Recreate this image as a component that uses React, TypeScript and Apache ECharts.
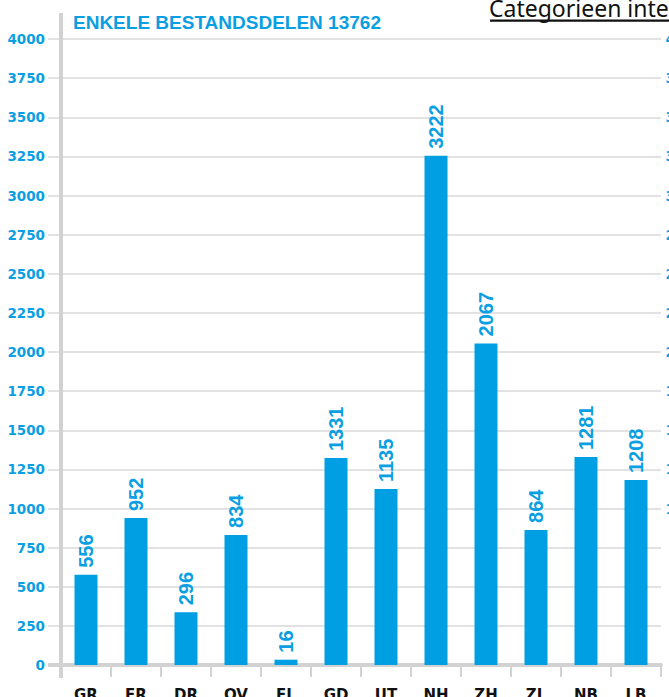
import React, { useEffect, useRef } from "react";
import * as echarts from "echarts";

const categories = ["GR", "FR", "DR", "OV", "FL", "GD", "UT", "NH", "ZH", "ZL", "NB", "LB"];
// bar heights as drawn in the reference
const barValues = [576, 939, 337, 831, 34, 1322, 1124, 3254, 2055, 863, 1329, 1182];
// value labels printed above the bars
const labelValues = [556, 952, 296, 834, 16, 1331, 1135, 3222, 2067, 864, 1281, 1208];
const yMin = 0;
const yMax = 4000;
const yInterval = 250;
const titleText = "ENKELE BESTANDSDELEN 13762";
const headerText = "Categorieen inte";

const BLUE = "#0a9fe2";
const BAR = "#009fe3";
const GRIDC = "#d8d8d8";
const AXISC = "#d2d2d2";

export default function App() {
  const ref = useRef<HTMLDivElement>(null);
  useEffect(() => {
    if (!ref.current) return;
    const chart = echarts.init(ref.current, undefined, { renderer: "svg" });
    chart.setOption({
      animation: false,
      backgroundColor: "#ffffff",
      grid: { left: 61, right: 8, top: 39, bottom: 32, containLabel: false, outerBoundsMode: "none" },
      xAxis: {
        type: "category",
        data: categories,
        axisLine: { show: true, lineStyle: { color: AXISC, width: 4 } },
        axisTick: { show: true, length: 12, lineStyle: { color: AXISC, width: 2 } },
        axisLabel: {
          margin: 22,
          color: "#111111",
          fontFamily: "DejaVu Sans",
          fontWeight: "bold",
          fontSize: 15,
        },
        splitLine: { show: false },
      },
      yAxis: [
        {
          type: "value",
          min: yMin,
          max: yMax,
          interval: yInterval,
          position: "left",
          axisLine: { show: false },
          axisTick: { show: true, length: 13, lineStyle: { color: GRIDC, width: 1.5 } },
          axisLabel: {
            margin: 16,
            color: BLUE,
            fontFamily: "DejaVu Sans",
            fontWeight: "bold",
            fontSize: 13.5,
            formatter: (v: number) => String(v),
          },
          splitLine: { show: true, lineStyle: { color: GRIDC, width: 1.5 } },
        },
        {
          type: "value",
          min: yMin,
          max: yMax,
          interval: yInterval,
          position: "right",
          axisLine: { show: false },
          axisTick: { show: false },
          axisLabel: {
            margin: 4,
            align: "left",
            color: BLUE,
            fontFamily: "DejaVu Sans",
            fontWeight: "bold",
            fontSize: 13.5,
            formatter: (v: number) => "{r|" + String(v) + "}",
            rich: {
              r: {
                width: 38,
                align: "right",
                color: BLUE,
                fontFamily: "DejaVu Sans",
                fontWeight: "bold",
                fontSize: 13.5,
              },
            },
          },
          splitLine: { show: false },
        },
      ],
      series: [
        {
          type: "bar",
          data: barValues,
          barWidth: 23,
          itemStyle: { color: BAR },
          label: {
            show: true,
            position: "top",
            rotate: 90,
            align: "left",
            verticalAlign: "middle",
            distance: 7,
            color: BLUE,
            fontFamily: "Liberation Sans",
            fontWeight: "bold",
            fontSize: 20,
            formatter: (p: any) => String(labelValues[p.dataIndex]),
          },
        },
      ],
      graphic: [
        {
          type: "rect",
          z: 10,
          shape: { x: 59, y: 13, width: 4, height: 665 },
          style: { fill: AXISC },
        },
        {
          type: "rect",
          z: 10,
          shape: { x: 48, y: 663, width: 13, height: 4 },
          style: { fill: AXISC },
        },
        {
          type: "text",
          z: 10,
          x: 73,
          y: 22,
          style: {
            text: titleText,
            fill: BLUE,
            fontFamily: "Liberation Sans",
            fontWeight: "bold",
            fontSize: 19,
            verticalAlign: "middle",
            align: "left",
          },
        },
        {
          type: "text",
          z: 10,
          x: 489,
          y: 8,
          style: {
            text: headerText,
            fill: "#111111",
            fontFamily: "Noto Sans",
            fontSize: 23,
            verticalAlign: "middle",
            align: "left",
          },
        },
        {
          type: "rect",
          z: 10,
          shape: { x: 490, y: 19.5, width: 190, height: 2.2 },
          style: { fill: "#111111" },
        },
      ],
    });
    return () => chart.dispose();
  }, []);
  return (
    <div
      ref={ref}
      style={{ position: "fixed", left: 0, top: 0, width: 669, height: 697, background: "#fff" }}
    />
  );
}
